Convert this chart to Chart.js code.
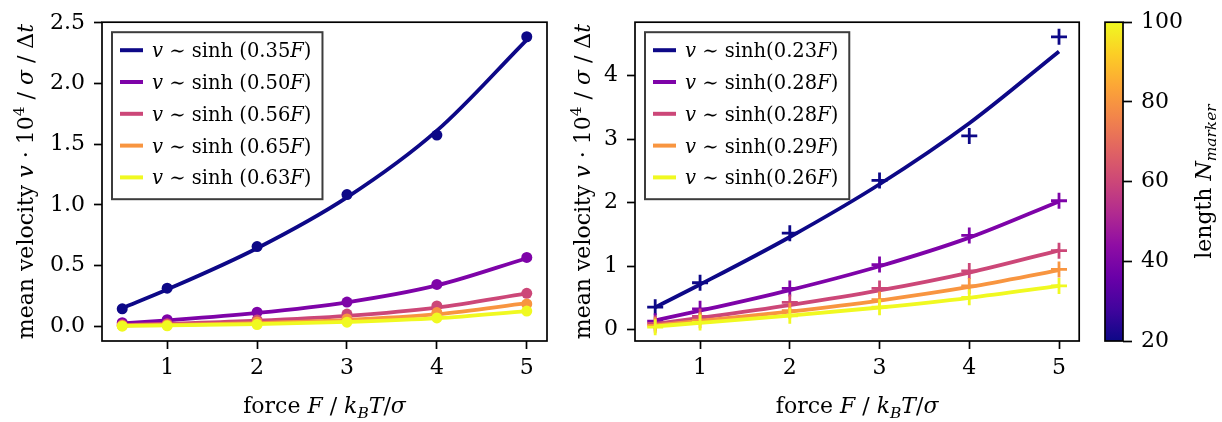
<!DOCTYPE html>
<html lang="en">
<head>
<meta charset="UTF-8">
<title>Mean velocity vs. force</title>
<script src="https://cdn.jsdelivr.net/npm/chart.js"></script>
<style>
    * { margin: 0; padding: 0; box-sizing: border-box; }
    body { background: #fff; width: 1222px; height: 422px; position: relative; overflow: hidden; }
    .panel { position: absolute; top: 0; height: 422px; }
    #left { left: 0; width: 560px; }
    #right { left: 560px; width: 530px; }
    #cbar { left: 1090px; width: 132px; }
</style>
</head>
<body>
<div class="panel" id="left"><canvas id="leftChart"></canvas></div>
<div class="panel" id="right"><canvas id="rightChart"></canvas></div>
<div class="panel" id="cbar"><canvas id="cbarChart"></canvas></div>
<script>
// applied force, one column per simulation
const forces = [0.5, 1, 2, 3, 4, 5];
// chain lengths, one row per series
const chainLengths = [20, 40, 60, 80, 100];

// left panel: measured velocities (dots) and sinh fits (lines)
const leftFitRates = ['0.35', '0.50', '0.56', '0.65', '0.63'];
const leftMeasured = [
    [0.143, 0.313, 0.656, 1.085, 1.575, 2.385],
    [0.029, 0.053, 0.115, 0.199, 0.344, 0.567],
    [0.011, 0.021, 0.052, 0.100, 0.167, 0.271],
    [0.005, 0.010, 0.034, 0.060, 0.112, 0.183],
    [0.000, 0.003, 0.014, 0.033, 0.068, 0.125]
];
const leftFit = [
    [0.149, 0.302, 0.642, 1.061, 1.611, 2.360],
    [0.023, 0.048, 0.109, 0.197, 0.336, 0.560],
    [0.009, 0.020, 0.045, 0.085, 0.153, 0.270],
    [0.005, 0.010, 0.025, 0.051, 0.099, 0.190],
    [0.003, 0.007, 0.017, 0.035, 0.066, 0.125]
];

// right panel: measured velocities (crosses) and sinh fits (lines)
const rightFitRates = ['0.23', '0.28', '0.28', '0.29', '0.26'];
const rightMeasured = [
    [0.355, 0.740, 1.520, 2.350, 3.050, 4.610],
    [0.135, 0.330, 0.650, 1.025, 1.485, 2.030],
    [0.100, 0.210, 0.430, 0.650, 0.925, 1.245],
    [0.070, 0.150, 0.300, 0.475, 0.690, 0.950],
    [0.040, 0.115, 0.220, 0.355, 0.510, 0.690]
];
const rightFit = [
    [0.354, 0.712, 1.460, 2.290, 3.250, 4.380],
    [0.149, 0.300, 0.625, 1.000, 1.450, 2.020],
    [0.092, 0.186, 0.387, 0.618, 0.900, 1.250],
    [0.068, 0.138, 0.287, 0.460, 0.673, 0.940],
    [0.053, 0.107, 0.221, 0.350, 0.503, 0.690]
];

// tick labels
const xTicks = [1, 2, 3, 4, 5];
const leftYTicks = [0, 0.5, 1, 1.5, 2, 2.5];
const rightYTicks = [0, 1, 2, 3, 4];
const cbarTicks = [20, 40, 60, 80, 100];

// plasma colormap, sampled at the chain lengths and as a continuous ramp
const seriesColors = ['#0d0887', '#7e03a8', '#cc4778', '#f89540', '#f0f921'];
const plasmaRamp = ['#0d0887', '#41049d', '#6a00a8', '#8f0da4', '#b12a90', '#cc4778',
                    '#e16462', '#f2844b', '#fca636', '#fcce25', '#f0f921'];

const FONT = '"DejaVu Serif", serif';
const TEXT_SIZE = 22;
Chart.defaults.font.family = FONT;
Chart.defaults.font.size = TEXT_SIZE;
Chart.defaults.color = '#000';

// draws a run of mixed roman / italic / sub / sup pieces
function drawRich(ctx, parts, x, y, size, align) {
    const fontFor = s => {
        const it = (s === 'i' || s === 'sub') ? 'italic ' : '';
        const sz = (s === 'sub' || s === 'sup') ? size * 0.7 : size;
        return it + sz + 'px ' + FONT;
    };
    let w = 0;
    for (const [t, s] of parts) { ctx.font = fontFor(s); w += ctx.measureText(t).width; }
    let cx = align === 'center' ? x - w / 2 : x;
    ctx.textAlign = 'left';
    ctx.textBaseline = 'alphabetic';
    ctx.fillStyle = '#000';
    for (const [t, s] of parts) {
        ctx.font = fontFor(s);
        const dy = s === 'sub' ? size * 0.22 : s === 'sup' ? -size * 0.42 : 0;
        ctx.fillText(t, cx, y + dy);
        cx += ctx.measureText(t).width;
    }
    return w;
}

const xTitle = [['force ', 'r'], ['F', 'i'], [' / ', 'r'], ['k', 'i'], ['B', 'sub'], ['T', 'i'], ['/', 'r'], ['σ', 'i']];
const yTitle = [['mean velocity ', 'r'], ['v', 'i'], [' · 10', 'r'], ['4', 'sup'], [' / ', 'r'], ['σ', 'i'], [' / Δ', 'r'], ['t', 'i']];

const framePlugin = {
    id: 'frame',
    afterDatasetsDraw(chart) {
        const a = chart.chartArea, ctx = chart.ctx;
        ctx.save();
        ctx.strokeStyle = '#000';
        ctx.lineWidth = 1.7;
        ctx.strokeRect(a.left, a.top, a.right - a.left, a.bottom - a.top);
        ctx.restore();
    }
};

function titlesPlugin(yTitleX) {
    return {
        id: 'titles',
        afterDraw(chart) {
            const a = chart.chartArea, ctx = chart.ctx;
            ctx.save();
            drawRich(ctx, xTitle, (a.left + a.right) / 2, 413, TEXT_SIZE, 'center');
            ctx.translate(yTitleX, (a.top + a.bottom) / 2);
            ctx.rotate(-Math.PI / 2);
            drawRich(ctx, yTitle, 0, 0, TEXT_SIZE, 'center');
            ctx.restore();
        }
    };
}

function legendPlugin(rates, gap) {
    return {
        id: 'fitLegend',
        afterDatasetsDraw(chart) {
            const a = chart.chartArea, ctx = chart.ctx;
            const size = 19.5;
            const entries = rates.map(r => [['v', 'i'], [' ∼ ', 'r'], ['sinh' + gap + '(' + r, 'r'], ['F', 'i'], [')', 'r']]);
            const bx = a.left + 10, by = a.top + 10;
            const textX = bx + 40;
            // measure widest entry for the box width
            let maxW = 0;
            ctx.save();
            for (const e of entries) {
                let w = 0;
                for (const [t, s] of e) {
                    ctx.font = (s === 'i' ? 'italic ' : '') + size + 'px ' + FONT;
                    w += ctx.measureText(t).width;
                }
                maxW = Math.max(maxW, w);
            }
            const bw = textX - bx + maxW + 11, bh = 167;
            ctx.fillStyle = '#fff';
            ctx.fillRect(bx, by, bw, bh);
            ctx.strokeStyle = '#3c3c3c';
            ctx.lineWidth = 2;
            ctx.strokeRect(bx, by, bw, bh);
            entries.forEach((e, i) => {
                const cy = by + 18 + i * 31.8;
                ctx.strokeStyle = seriesColors[i];
                ctx.lineWidth = 4;
                ctx.beginPath();
                ctx.moveTo(bx + 8, cy);
                ctx.lineTo(bx + 31, cy);
                ctx.stroke();
                drawRich(ctx, e, textX, cy + 7, size, 'left');
            });
            ctx.restore();
        }
    };
}

function fixedTicks(values) {
    return scale => { scale.ticks = values.map(v => ({ value: v })); };
}

function tickGrid() {
    return { display: true, drawOnChartArea: false, drawTicks: true, tickLength: 8, tickWidth: 1.7, tickColor: '#000' };
}

function makePanel(canvasId, measured, fit, rates, gap, opts) {
    const datasets = [];
    chainLengths.forEach((n, i) => {
        datasets.push({
            label: 'N = ' + n + ' fit',
            data: forces.map((f, j) => ({ x: f, y: fit[i][j] })),
            borderColor: seriesColors[i],
            borderWidth: 3.8,
            pointRadius: 0,
            cubicInterpolationMode: 'monotone',
            order: 10 - 2 * i
        });
        datasets.push({
            label: 'N = ' + n,
            data: forces.map((f, j) => ({ x: f, y: measured[i][j] })),
            showLine: false,
            pointStyle: opts.pointStyle,
            pointRadius: opts.pointRadius,
            pointBorderWidth: opts.pointBorderWidth,
            pointBackgroundColor: seriesColors[i],
            pointBorderColor: seriesColors[i],
            order: 9 - 2 * i
        });
    });
    return new Chart(document.getElementById(canvasId), {
        type: 'line',
        data: { datasets },
        options: {
            responsive: true,
            maintainAspectRatio: false,
            animation: false,
            events: [],
            layout: { padding: { left: 0, top: 18, right: opts.padRight, bottom: 0 } },
            plugins: { legend: { display: false }, tooltip: { enabled: false } },
            scales: {
                x: {
                    type: 'linear',
                    min: 0.275, max: 5.225,
                    afterBuildTicks: fixedTicks(xTicks),
                    afterFit: s => { s.height = 81; },
                    grid: tickGrid(),
                    border: { display: false },
                    ticks: { padding: 6, callback: v => String(v) }
                },
                y: {
                    type: 'linear',
                    min: opts.yMin, max: opts.yMax,
                    afterBuildTicks: fixedTicks(opts.yTicks),
                    afterFit: s => { s.width = opts.axisLeft; },
                    grid: tickGrid(),
                    border: { display: false },
                    ticks: { padding: 9, callback: opts.fmt }
                }
            }
        },
        plugins: [framePlugin, legendPlugin(rates, gap), titlesPlugin(opts.yTitleX)]
    });
}

makePanel('leftChart', leftMeasured, leftFit, leftFitRates, ' ', {
    pointStyle: 'circle', pointRadius: 5.5, pointBorderWidth: 0,
    padRight: 13, axisLeft: 102, yMin: -0.122, yMax: 2.505,
    yTicks: leftYTicks, fmt: v => v.toFixed(1), yTitleX: 33
});

makePanel('rightChart', rightMeasured, rightFit, rightFitRates, '', {
    pointStyle: 'cross', pointRadius: 8, pointBorderWidth: 2.8,
    padRight: 10, axisLeft: 75, yMin: -0.177, yMax: 4.84,
    yTicks: rightYTicks, fmt: v => String(v), yTitleX: 30
});

// colorbar for the chain length
new Chart(document.getElementById('cbarChart'), {
    type: 'bar',
    data: {
        labels: [''],
        datasets: [{
            data: [[chainLengths[0], chainLengths[chainLengths.length - 1]]],
            barPercentage: 1,
            categoryPercentage: 1,
            borderWidth: 0,
            backgroundColor: c => {
                const a = c.chart.chartArea;
                if (!a) return seriesColors[0];
                const g = c.chart.ctx.createLinearGradient(0, a.bottom, 0, a.top);
                plasmaRamp.forEach((col, i) => g.addColorStop(i / (plasmaRamp.length - 1), col));
                return g;
            }
        }]
    },
    options: {
        responsive: true,
        maintainAspectRatio: false,
        animation: false,
        events: [],
        layout: { padding: { left: 15, top: 18, right: 0, bottom: 81 } },
        plugins: { legend: { display: false }, tooltip: { enabled: false } },
        scales: {
            x: { display: false },
            y: {
                position: 'right',
                min: 20, max: 100,
                afterBuildTicks: fixedTicks(cbarTicks),
                afterFit: s => { s.width = 99; },
                grid: { display: true, drawOnChartArea: false, drawTicks: true, tickLength: 9, tickWidth: 1.7, tickColor: '#000' },
                border: { display: false },
                ticks: { padding: 9 }
            }
        }
    },
    plugins: [framePlugin, {
        id: 'cbarLabel',
        afterDraw(chart) {
            const ctx = chart.ctx, a = chart.chartArea;
            ctx.save();
            ctx.translate(121, (a.top + a.bottom) / 2);
            ctx.rotate(-Math.PI / 2);
            drawRich(ctx, [['length ', 'r'], ['N', 'i'], ['marker', 'sub']], 0, 0, TEXT_SIZE, 'center');
            ctx.restore();
        }
    }]
});
</script>
</body>
</html>
